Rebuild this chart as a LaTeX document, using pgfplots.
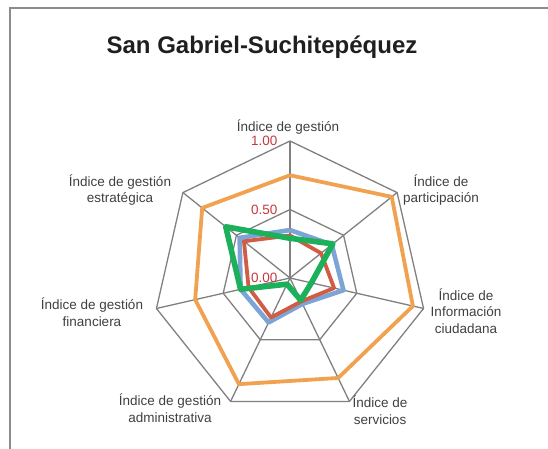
\documentclass[border=0pt]{standalone}
\usepackage{fontspec}
\setmainfont{Liberation Sans}
\usepackage{pgfplots}
\pgfplotsset{compat=1.18}

\definecolor{gridgray}{RGB}{128,128,128}
\definecolor{framegray}{RGB}{140,140,140}
\definecolor{labelgray}{RGB}{64,64,64}
\definecolor{tickred}{RGB}{196,56,62}
\definecolor{serblue}{RGB}{124,164,214}
\definecolor{serred}{RGB}{208,92,68}
\definecolor{serorange}{RGB}{240,162,80}
\definecolor{sergreen}{RGB}{28,176,90}

% angles (deg) of the seven spokes, top first, clockwise:
% 90, 38.571, -12.857, -64.286, -115.714, -167.143, 141.429

\begin{document}
\begin{tikzpicture}[x=1pt,y=1pt]
\useasboundingbox (0,0) rectangle (548,449);

% chart frame (cut off at the right and bottom)
\draw[framegray, line width=1.2pt] (10,-5) -- (10,441) -- (555,441);

\node[font=\bfseries\fontsize{24}{28}\selectfont, text=black!88] at (262,402) {San Gabriel-Suchitepéquez};

\begin{axis}[
    x=137pt, y=137pt,
    xmin=-1.2, xmax=1.2,
    ymin=-1.2, ymax=1.2,
    hide axis,
    clip=false,
    anchor=south west,
    at={(125.6pt,6.6pt)},
]

% grid rings
\addplot[gridgray, line width=1.3pt, line join=round, data cs=polar] coordinates {
    (90,1) (38.571,1) (-12.857,1) (-64.286,1) (-115.714,1) (-167.143,1) (141.429,1) (90,1)
};
\addplot[gridgray, line width=1.3pt, line join=round, data cs=polar] coordinates {
    (90,0.5) (38.571,0.5) (-12.857,0.5) (-64.286,0.5) (-115.714,0.5) (-167.143,0.5) (141.429,0.5) (90,0.5)
};
% spokes
\addplot[gridgray, line width=1.3pt, data cs=polar] coordinates {(90,0) (90,1)};
\addplot[gridgray, line width=1.3pt, data cs=polar] coordinates {(38.571,0) (38.571,1)};
\addplot[gridgray, line width=1.3pt, data cs=polar] coordinates {(-12.857,0) (-12.857,1)};
\addplot[gridgray, line width=1.3pt, data cs=polar] coordinates {(-64.286,0) (-64.286,1)};
\addplot[gridgray, line width=1.3pt, data cs=polar] coordinates {(-115.714,0) (-115.714,1)};
\addplot[gridgray, line width=1.3pt, data cs=polar] coordinates {(-167.143,0) (-167.143,1)};
\addplot[gridgray, line width=1.3pt, data cs=polar] coordinates {(141.429,0) (141.429,1)};

% series
\addplot[serblue, line width=4.6pt, line join=round, data cs=polar] coordinates {
    (90,0.35) (38.571,0.39) (-12.857,0.40) (-64.286,0.21) (-115.714,0.36) (-167.143,0.37) (141.429,0.47) (90,0.35)
};
\addplot[serred, line width=3.8pt, line join=round, data cs=polar] coordinates {
    (90,0.31) (38.571,0.29) (-12.857,0.33) (-64.286,0.19) (-115.714,0.32) (-167.143,0.31) (141.429,0.43) (90,0.31)
};
\addplot[serorange, line width=3.8pt, line join=round, data cs=polar] coordinates {
    (90,0.75) (38.571,0.95) (-12.857,0.92) (-64.286,0.81) (-115.714,0.86) (-167.143,0.71) (141.429,0.82) (90,0.75)
};
\addplot[sergreen, line width=5.6pt, line join=round, data cs=polar] coordinates {
    (90,0.29) (38.571,0.40) (-12.857,0.16) (-64.286,0.18) (-115.714,0.05) (-167.143,0.37) (141.429,0.60) (90,0.29)
};

% value labels on the top spoke
\node[anchor=east, text=tickred, font=\fontsize{13.5}{16}\selectfont, inner sep=0pt] at (axis cs:-0.09,1) {1.00};
\node[anchor=east, text=tickred, font=\fontsize{13.5}{16}\selectfont, inner sep=0pt] at (axis cs:-0.09,0.5) {0.50};
\node[anchor=east, text=tickred, font=\fontsize{13.5}{16}\selectfont, inner sep=0pt] at (axis cs:-0.09,0) {0.00};
\end{axis}

% category labels
\tikzset{cat/.style={text=labelgray, font=\fontsize{13.5}{16.5}\selectfont, align=center, inner sep=0pt}}
\node[cat] at (288,322) {Índice de gestión};
\node[cat] at (441,259) {Índice de\\participación};
\node[cat] at (466,138) {Índice de\\Información\\ciudadana};
\node[cat] at (380,39) {Índice de\\servicios};
\node[cat] at (170,41) {Índice de gestión\\administrativa};
\node[cat] at (92,137) {Índice de gestión\\financiera};
\node[cat] at (120,259) {Índice de gestión\\estratégica};
\end{tikzpicture}
\end{document}
